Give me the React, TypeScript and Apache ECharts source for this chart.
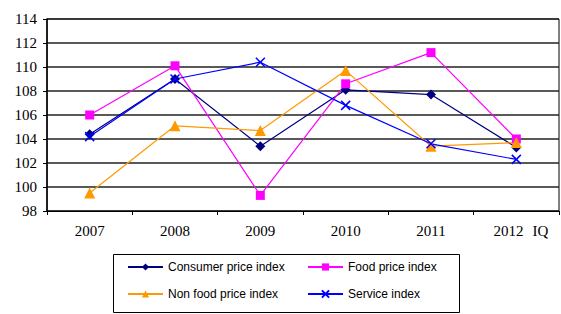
import React, { useEffect, useRef } from "react";
import * as echarts from "echarts";

const categories = ["2007", "2008", "2009", "2010", "2011", "2012 IQ"];
const consumerPrice = [104.4, 109.0, 103.4, 108.1, 107.7, 103.3];
const foodPrice = [106.0, 110.1, 99.3, 108.6, 111.2, 104.0];
const nonFoodPrice = [99.5, 105.1, 104.7, 109.7, 103.4, 103.7];
const serviceIndex = [104.2, 109.0, 110.4, 106.8, 103.6, 102.3];

const crossPath = "path://M0,0L10,10M10,0L0,10";

export default function App() {
  const ref = useRef<HTMLDivElement>(null);
  useEffect(() => {
    const chart = echarts.init(ref.current!, null, { renderer: "svg" });
    const legendText = { fontFamily: "Liberation Sans", fontSize: 12, color: "#000", lineHeight: 14 };
    const serif = { fontFamily: "Liberation Serif", fontSize: 15, color: "#000" };
    const boxStyle = { stroke: "#000", lineWidth: 1 };
    chart.setOption({
      animation: false,
      backgroundColor: "#fff",
      grid: {
        left: 47,
        right: 2,
        top: 19,
        bottom: 103,
        show: true,
        borderColor: "#000",
        borderWidth: 1,
      },
      xAxis: {
        type: "category",
        data: categories,
        boundaryGap: true,
        axisLine: { lineStyle: { color: "#000", width: 1.2 } },
        axisTick: { show: true, length: 4, lineStyle: { color: "#000" } },
        axisLabel: {
          interval: 0,
          margin: 12,
          ...serif,
          formatter: (v: string) => {
            const parts = v.split(" ");
            return parts.length > 1 ? `{y|${parts[0]}}{q|${parts[1]}}` : v;
          },
          rich: {
            y: { ...serif, padding: [0, 0, 0, 9] },
            q: { ...serif, padding: [0, 0, 0, 9] },
          },
        },
      },
      yAxis: {
        type: "value",
        min: 98,
        max: 114,
        interval: 2,
        axisLine: { show: true, lineStyle: { color: "#000", width: 1.5 } },
        axisTick: { show: true, length: 4, lineStyle: { color: "#000" } },
        axisLabel: { margin: 10, ...serif },
        splitLine: { show: true, lineStyle: { color: "#222", width: 1.5 } },
      },
      legend: [
        {
          left: 127,
          top: 260,
          padding: 0,
          orient: "vertical",
          itemWidth: 35,
          itemHeight: 9,
          itemGap: 13,
          textStyle: legendText,
          data: ["Consumer price index", "Non food price index"],
        },
        {
          left: 307,
          top: 260,
          padding: 0,
          orient: "vertical",
          itemWidth: 35,
          itemHeight: 9,
          itemGap: 13,
          textStyle: legendText,
          data: ["Food price index", "Service index"],
        },
      ],
      graphic: [
        { type: "line", z: 100, shape: { x1: 113.5, y1: 254.5, x2: 459.5, y2: 254.5 }, style: boxStyle },
        { type: "line", z: 100, shape: { x1: 113.5, y1: 312.5, x2: 459.5, y2: 312.5 }, style: boxStyle },
        { type: "line", z: 100, shape: { x1: 113.5, y1: 254.5, x2: 113.5, y2: 312.5 }, style: boxStyle },
        { type: "line", z: 100, shape: { x1: 459.5, y1: 254.5, x2: 459.5, y2: 312.5 }, style: boxStyle },
      ],
      series: [
        {
          name: "Consumer price index",
          type: "line",
          data: consumerPrice,
          symbol: "diamond",
          symbolSize: 10,
          lineStyle: { color: "#000080", width: 1.2 },
          itemStyle: { color: "#000080" },
        },
        {
          name: "Food price index",
          type: "line",
          data: foodPrice,
          symbol: "rect",
          symbolSize: 9,
          lineStyle: { color: "#FF00FF", width: 1.2 },
          itemStyle: { color: "#FF00FF" },
        },
        {
          name: "Non food price index",
          type: "line",
          data: nonFoodPrice,
          symbol: "triangle",
          symbolSize: 11,
          lineStyle: { color: "#FF9900", width: 1.2 },
          itemStyle: { color: "#FF9900" },
        },
        {
          name: "Service index",
          type: "line",
          data: serviceIndex,
          symbol: crossPath,
          symbolSize: 9,
          lineStyle: { color: "#0000FF", width: 1.2 },
          itemStyle: { color: "#0000FF", borderColor: "#0000FF", borderWidth: 1.5 },
        },
      ],
    });
    return () => chart.dispose();
  }, []);
  return <div ref={ref} style={{ position: "absolute", left: 0, top: 0, width: 561, height: 314 }} />;
}
